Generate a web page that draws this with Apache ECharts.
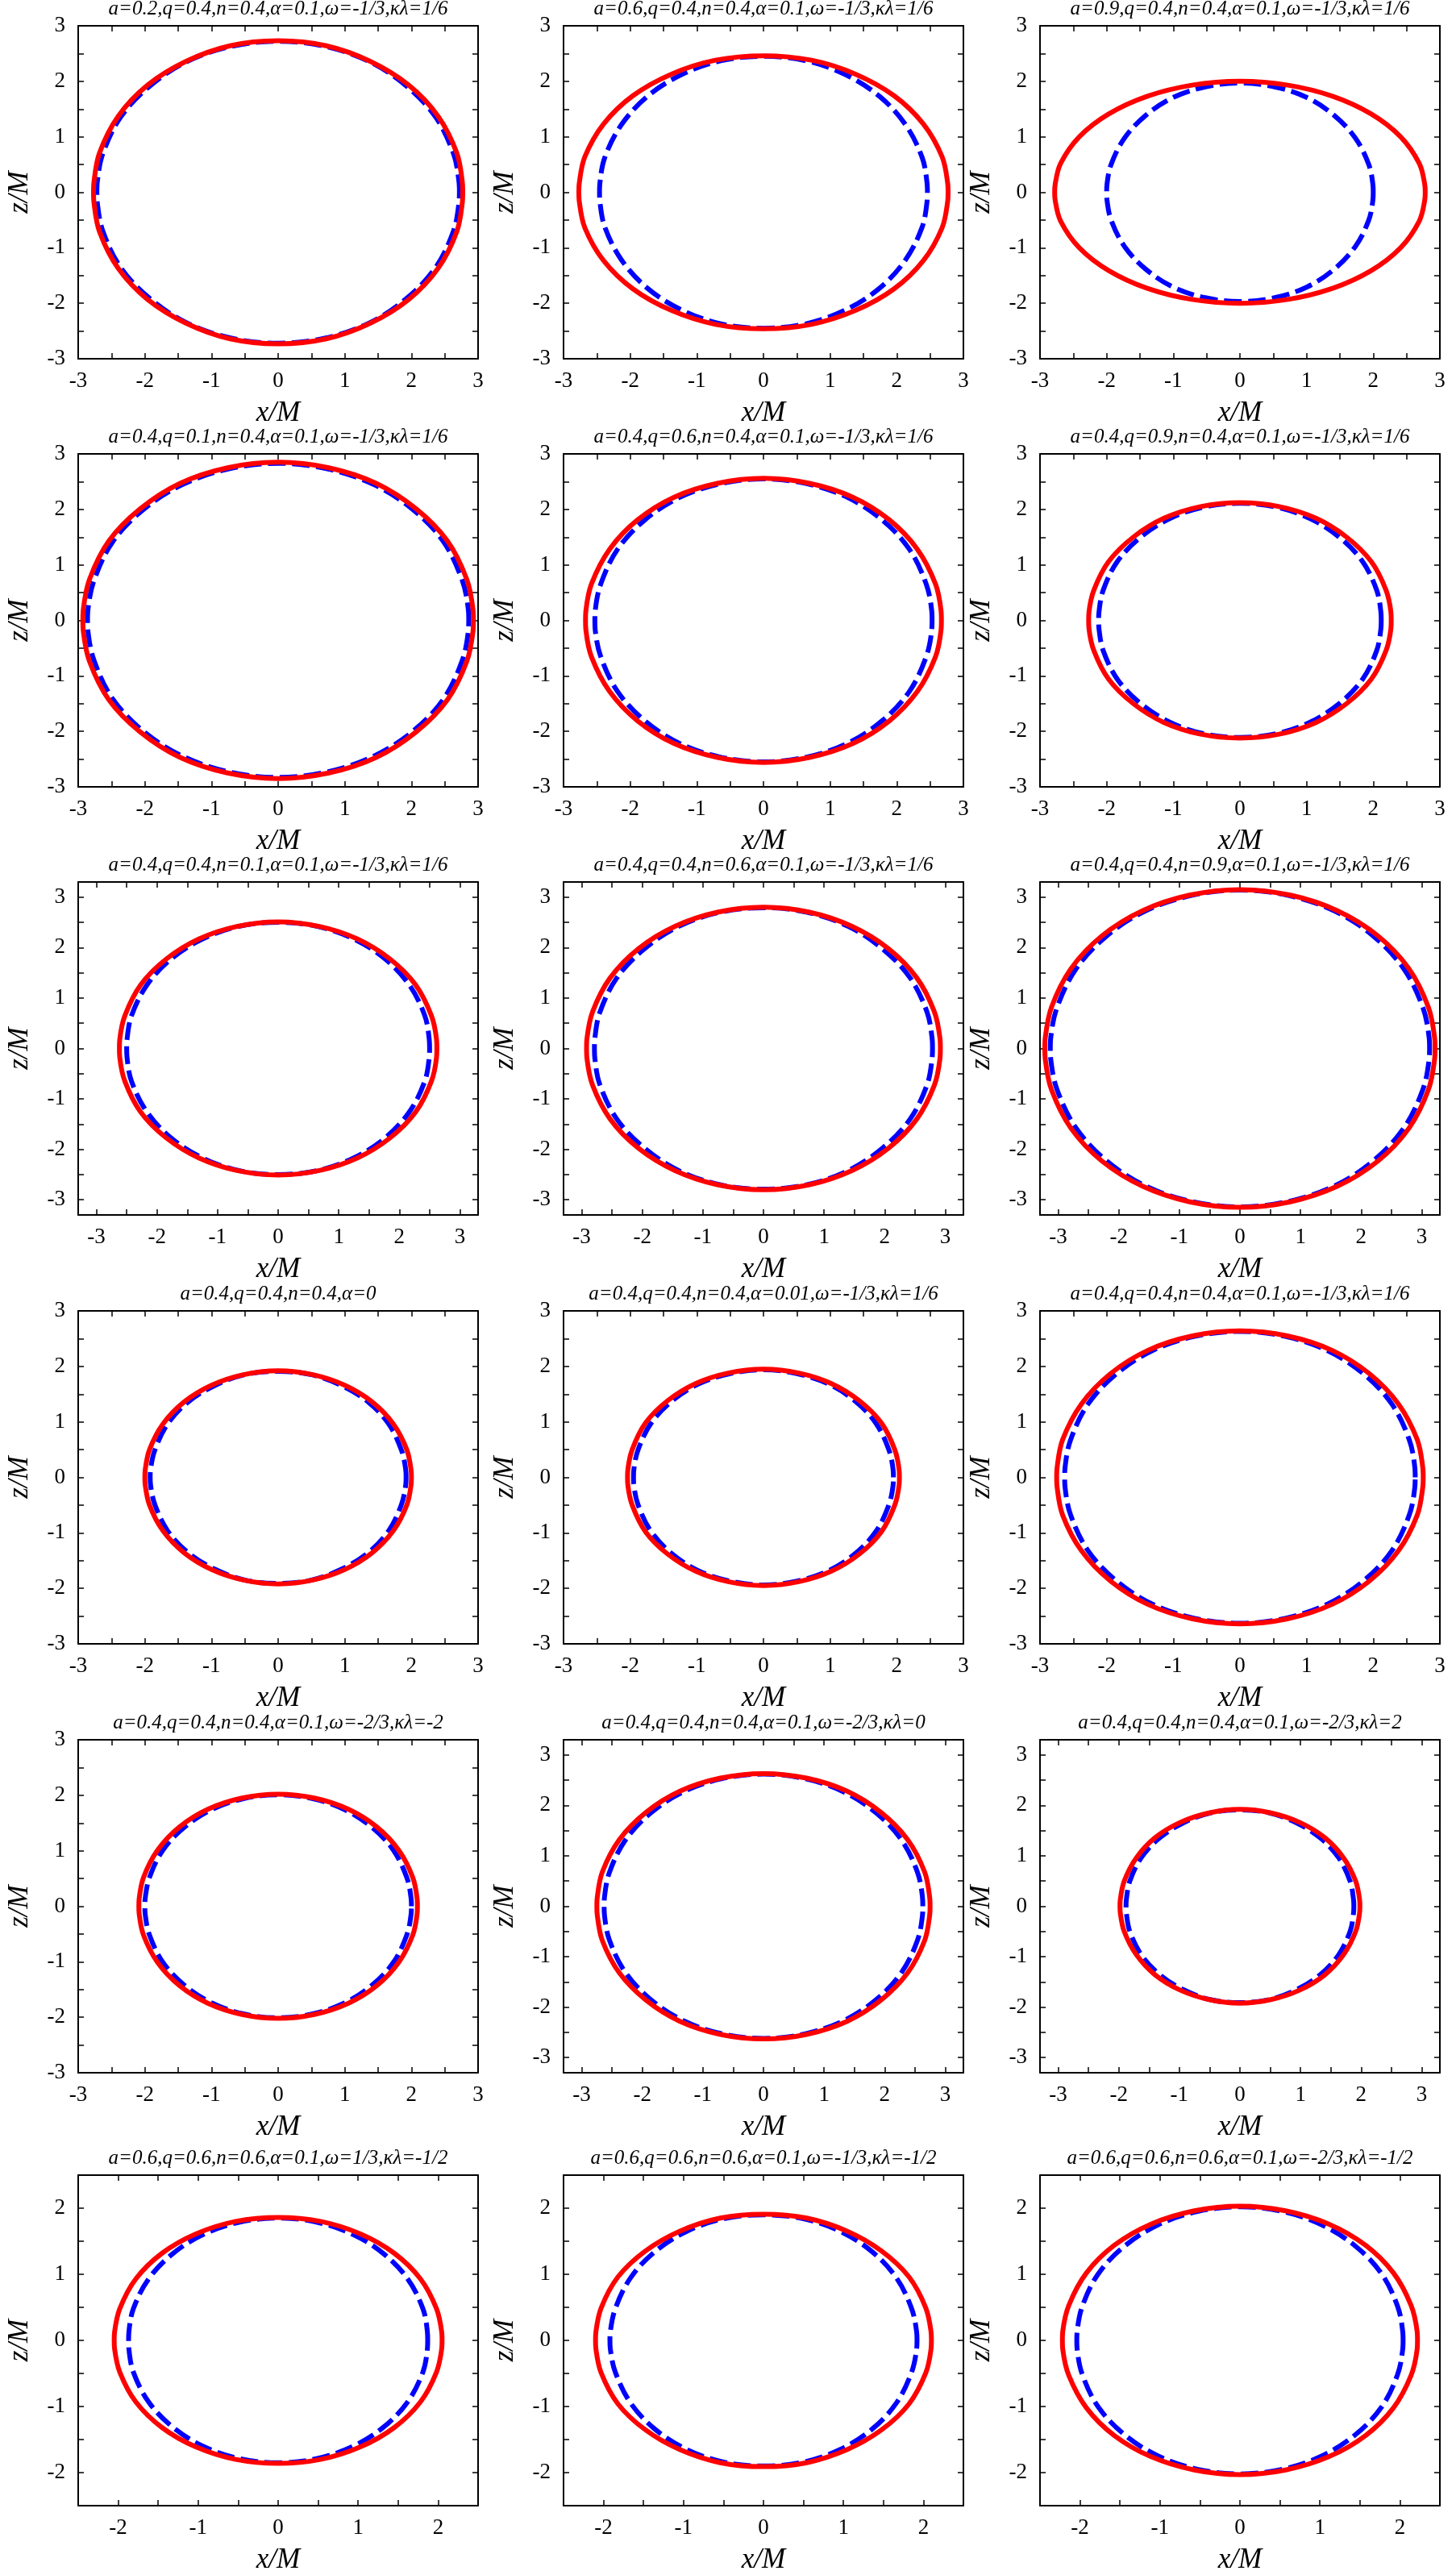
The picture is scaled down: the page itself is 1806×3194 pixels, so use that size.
<!DOCTYPE html>
<html>
<head>
<meta charset="utf-8">
<script src="https://cdn.jsdelivr.net/npm/echarts@6/dist/echarts.min.js"></script>
<style>
  html, body {margin: 0; padding: 0; background: #fff;}
  #chart {width: 1806px; height: 3194px;}
</style>
</head>
<body>
<div id="chart"></div>
<script>
const titles = [
  'a=0.2,q=0.4,n=0.4,α=0.1,ω=-1/3,κλ=1/6',
  'a=0.6,q=0.4,n=0.4,α=0.1,ω=-1/3,κλ=1/6',
  'a=0.9,q=0.4,n=0.4,α=0.1,ω=-1/3,κλ=1/6',
  'a=0.4,q=0.1,n=0.4,α=0.1,ω=-1/3,κλ=1/6',
  'a=0.4,q=0.6,n=0.4,α=0.1,ω=-1/3,κλ=1/6',
  'a=0.4,q=0.9,n=0.4,α=0.1,ω=-1/3,κλ=1/6',
  'a=0.4,q=0.4,n=0.1,α=0.1,ω=-1/3,κλ=1/6',
  'a=0.4,q=0.4,n=0.6,α=0.1,ω=-1/3,κλ=1/6',
  'a=0.4,q=0.4,n=0.9,α=0.1,ω=-1/3,κλ=1/6',
  'a=0.4,q=0.4,n=0.4,α=0',
  'a=0.4,q=0.4,n=0.4,α=0.01,ω=-1/3,κλ=1/6',
  'a=0.4,q=0.4,n=0.4,α=0.1,ω=-1/3,κλ=1/6',
  'a=0.4,q=0.4,n=0.4,α=0.1,ω=-2/3,κλ=-2',
  'a=0.4,q=0.4,n=0.4,α=0.1,ω=-2/3,κλ=0',
  'a=0.4,q=0.4,n=0.4,α=0.1,ω=-2/3,κλ=2',
  'a=0.6,q=0.6,n=0.6,α=0.1,ω=1/3,κλ=-1/2',
  'a=0.6,q=0.6,n=0.6,α=0.1,ω=-1/3,κλ=-1/2',
  'a=0.6,q=0.6,n=0.6,α=0.1,ω=-2/3,κλ=-1/2'
];

// half-width of each panel's x and z range
const axisMax = [3, 3, 3, 3, 3, 3, 3.3, 3.3, 3.3, 3, 3, 3, 3, 3.3, 3.3, 2.5, 2.5, 2.5];

const ticks3 = [-3, -2.5, -2, -1.5, -1, -0.5, 0, 0.5, 1, 1.5, 2, 2.5, 3];
const labels3 = [-3, -2, -1, 0, 1, 2, 3];
const ticks25 = [-2.5, -2, -1.5, -1, -0.5, 0, 0.5, 1, 1.5, 2, 2.5];
const labels25 = [-2, -1, 0, 1, 2];

// one quadrant of each curve, from the equator (z=0) up to the pole (x=0)
const red1X = [2.77, 2.763, 2.68, 2.40, 1.96, 1.38, 0.72, 0];
const red1Z = [0, 0.19, 0.71, 1.37, 1.93, 2.36, 2.64, 2.73];
const blue1X = [2.72, 2.713, 2.63, 2.36, 1.92, 1.36, 0.70, 0];
const blue1Z = [0, 0.19, 0.70, 1.36, 1.92, 2.36, 2.63, 2.72];

const red2X = [2.77, 2.763, 2.68, 2.40, 1.96, 1.38, 0.72, 0];
const red2Z = [0, 0.17, 0.64, 1.23, 1.74, 2.13, 2.38, 2.46];
const blue2X = [2.46, 2.454, 2.38, 2.13, 1.74, 1.23, 0.64, 0];
const blue2Z = [0, 0.17, 0.63, 1.22, 1.73, 2.12, 2.37, 2.45];

const red3X = [2.78, 2.773, 2.69, 2.41, 1.97, 1.39, 0.72, 0];
const red3Z = [0, 0.14, 0.52, 1.00, 1.41, 1.73, 1.93, 2.00];
const blue3X = [2.00, 1.995, 1.93, 1.73, 1.41, 1.00, 0.52, 0];
const blue3Z = [0, 0.14, 0.51, 0.98, 1.39, 1.71, 1.90, 1.97];

const red4X = [2.93, 2.923, 2.83, 2.54, 2.07, 1.47, 0.76, 0];
const red4Z = [0, 0.20, 0.74, 1.43, 2.01, 2.47, 2.75, 2.85];
const blue4X = [2.86, 2.853, 2.76, 2.48, 2.02, 1.43, 0.74, 0];
const blue4Z = [0, 0.20, 0.73, 1.42, 2.00, 2.45, 2.73, 2.83];

const red5X = [2.67, 2.664, 2.58, 2.31, 1.89, 1.34, 0.69, 0];
const red5Z = [0, 0.18, 0.66, 1.28, 1.81, 2.22, 2.47, 2.56];
const blue5X = [2.53, 2.524, 2.44, 2.19, 1.79, 1.27, 0.66, 0];
const blue5Z = [0, 0.18, 0.66, 1.28, 1.80, 2.21, 2.46, 2.55];

const red6X = [2.27, 2.265, 2.19, 1.97, 1.60, 1.14, 0.59, 0];
const red6Z = [0, 0.15, 0.55, 1.06, 1.50, 1.84, 2.05, 2.12];
const blue6X = [2.12, 2.115, 2.05, 1.84, 1.50, 1.06, 0.55, 0];
const blue6Z = [0, 0.15, 0.55, 1.06, 1.49, 1.83, 2.04, 2.11];

const red7X = [2.62, 2.614, 2.53, 2.27, 1.85, 1.31, 0.68, 0];
const red7Z = [0, 0.18, 0.65, 1.26, 1.77, 2.17, 2.42, 2.51];
const blue7X = [2.50, 2.494, 2.42, 2.17, 1.77, 1.25, 0.65, 0];
const blue7Z = [0, 0.18, 0.65, 1.25, 1.77, 2.17, 2.42, 2.50];

const red8X = [2.92, 2.913, 2.82, 2.53, 2.06, 1.46, 0.76, 0];
const red8Z = [0, 0.20, 0.73, 1.40, 1.98, 2.42, 2.70, 2.80];
const blue8X = [2.79, 2.783, 2.70, 2.42, 1.97, 1.40, 0.72, 0];
const blue8Z = [0, 0.20, 0.72, 1.40, 1.97, 2.42, 2.70, 2.79];

const red9X = [3.22, 3.212, 3.11, 2.79, 2.28, 1.61, 0.83, 0];
const red9Z = [0, 0.22, 0.82, 1.58, 2.23, 2.73, 3.04, 3.15];
const blue9X = [3.13, 3.122, 3.02, 2.71, 2.21, 1.57, 0.81, 0];
const blue9Z = [0, 0.22, 0.81, 1.57, 2.22, 2.72, 3.03, 3.14];

const red10X = [2.00, 1.995, 1.93, 1.73, 1.41, 1.00, 0.52, 0];
const red10Z = [0, 0.13, 0.50, 0.96, 1.36, 1.66, 1.85, 1.92];
const blue10X = [1.92, 1.915, 1.85, 1.66, 1.36, 0.96, 0.50, 0];
const blue10Z = [0, 0.13, 0.49, 0.96, 1.35, 1.65, 1.85, 1.91];

const red11X = [2.04, 2.035, 1.97, 1.77, 1.44, 1.02, 0.53, 0];
const red11Z = [0, 0.14, 0.50, 0.98, 1.38, 1.69, 1.88, 1.95];
const blue11X = [1.95, 1.945, 1.88, 1.69, 1.38, 0.98, 0.50, 0];
const blue11Z = [0, 0.14, 0.50, 0.97, 1.37, 1.68, 1.87, 1.94];

const red12X = [2.75, 2.743, 2.66, 2.38, 1.94, 1.38, 0.71, 0];
const red12Z = [0, 0.18, 0.68, 1.32, 1.87, 2.29, 2.55, 2.64];
const blue12X = [2.63, 2.624, 2.54, 2.28, 1.86, 1.32, 0.68, 0];
const blue12Z = [0, 0.18, 0.68, 1.32, 1.86, 2.28, 2.54, 2.63];

const red13X = [2.09, 2.085, 2.02, 1.81, 1.48, 1.05, 0.54, 0];
const red13Z = [0, 0.14, 0.52, 1.01, 1.43, 1.75, 1.95, 2.02];
const blue13X = [2.00, 1.995, 1.93, 1.73, 1.41, 1.00, 0.52, 0];
const blue13Z = [0, 0.14, 0.52, 1.01, 1.42, 1.74, 1.94, 2.01];

const red14X = [2.75, 2.743, 2.66, 2.38, 1.94, 1.38, 0.71, 0];
const red14Z = [0, 0.18, 0.68, 1.32, 1.86, 2.28, 2.54, 2.63];
const blue14X = [2.63, 2.624, 2.54, 2.28, 1.86, 1.32, 0.68, 0];
const blue14Z = [0, 0.18, 0.68, 1.31, 1.85, 2.27, 2.53, 2.62];

const red15X = [1.98, 1.975, 1.91, 1.71, 1.40, 0.99, 0.51, 0];
const red15Z = [0, 0.13, 0.50, 0.96, 1.36, 1.66, 1.85, 1.92];
const blue15X = [1.88, 1.875, 1.82, 1.63, 1.33, 0.94, 0.49, 0];
const blue15Z = [0, 0.13, 0.49, 0.96, 1.35, 1.65, 1.85, 1.91];

const red16X = [2.05, 2.045, 1.98, 1.78, 1.45, 1.03, 0.53, 0];
const red16Z = [0, 0.13, 0.48, 0.93, 1.32, 1.61, 1.80, 1.86];
const blue16X = [1.87, 1.866, 1.81, 1.62, 1.32, 0.94, 0.48, 0];
const blue16Z = [0, 0.13, 0.48, 0.93, 1.31, 1.60, 1.79, 1.85];

const red17X = [2.10, 2.095, 2.03, 1.82, 1.48, 1.05, 0.54, 0];
const red17Z = [0, 0.13, 0.49, 0.96, 1.35, 1.65, 1.85, 1.91];
const blue17X = [1.92, 1.915, 1.85, 1.66, 1.36, 0.96, 0.50, 0];
const blue17Z = [0, 0.13, 0.49, 0.95, 1.34, 1.65, 1.84, 1.90];

const red18X = [2.22, 2.215, 2.14, 1.92, 1.57, 1.11, 0.57, 0];
const red18Z = [0, 0.14, 0.53, 1.02, 1.44, 1.76, 1.96, 2.03];
const blue18X = [2.04, 2.035, 1.97, 1.77, 1.44, 1.02, 0.53, 0];
const blue18Z = [0, 0.14, 0.52, 1.01, 1.43, 1.75, 1.95, 2.02];

const redX = [red1X, red2X, red3X, red4X, red5X, red6X, red7X, red8X, red9X,
  red10X, red11X, red12X, red13X, red14X, red15X, red16X, red17X, red18X];
const redZ = [red1Z, red2Z, red3Z, red4Z, red5Z, red6Z, red7Z, red8Z, red9Z,
  red10Z, red11Z, red12Z, red13Z, red14Z, red15Z, red16Z, red17Z, red18Z];
const blueX = [blue1X, blue2X, blue3X, blue4X, blue5X, blue6X, blue7X, blue8X, blue9X,
  blue10X, blue11X, blue12X, blue13X, blue14X, blue15X, blue16X, blue17X, blue18X];
const blueZ = [blue1Z, blue2Z, blue3Z, blue4Z, blue5Z, blue6Z, blue7Z, blue8Z, blue9Z,
  blue10Z, blue11Z, blue12Z, blue13Z, blue14Z, blue15Z, blue16Z, blue17Z, blue18Z];

// curves are symmetric in x and z: mirror the quadrant into a closed loop
function loop(xs, zs) {
  const pts = [];
  const n = xs.length;
  for (let i = 0; i < n; i++) pts.push([xs[i], zs[i]]);
  for (let i = n - 2; i >= 0; i--) pts.push([-xs[i], zs[i]]);
  for (let i = 1; i < n; i++) pts.push([-xs[i], -zs[i]]);
  for (let i = n - 2; i >= 0; i--) pts.push([xs[i], -zs[i]]);
  return pts;
}

const colLeft = [97, 699, 1290];
const rowTop = [32, 563, 1094, 1626, 2158, 2698];
const W = 496, H = 413;
const serif = '"Liberation Serif", "DejaVu Serif", serif';

const grid = [], xAxis = [], yAxis = [], series = [], title = [];

titles.forEach((t, i) => {
  const left = colLeft[i % 3];
  const top = rowTop[Math.floor(i / 3)];
  const m = axisMax[i];
  const ticks = m === 2.5 ? ticks25 : ticks3;
  const labels = m === 2.5 ? labels25 : labels3;

  grid.push({left: left, top: top, width: W, height: H});
  title.push({
    text: t, left: left + W / 2, top: top - 21, padding: 0,
    textAlign: 'center', textVerticalAlign: 'middle',
    textStyle: {fontFamily: serif, fontStyle: 'italic', fontWeight: 'normal', fontSize: 25, color: '#000'}
  });

  const line = {onZero: false, lineStyle: {color: '#000', width: 2}};
  const tick = {inside: true, length: 7, customValues: ticks, lineStyle: {color: '#000', width: 1.5}};
  const label = {customValues: labels, fontFamily: serif, fontSize: 27, color: '#000', showMinLabel: true, showMaxLabel: true};
  const name = {fontFamily: serif, fontStyle: 'italic', fontSize: 35, color: '#000'};

  xAxis.push({
    type: 'value', gridIndex: i, min: -m, max: m, position: 'bottom',
    axisLine: line, axisTick: tick, axisLabel: Object.assign({margin: 14}, label),
    splitLine: {show: false},
    name: 'x/M', nameLocation: 'middle', nameGap: 50, nameTextStyle: name
  });
  xAxis.push({
    type: 'value', gridIndex: i, min: -m, max: m, position: 'top',
    axisLine: line, axisTick: tick, axisLabel: {show: false}, splitLine: {show: false}
  });
  yAxis.push({
    type: 'value', gridIndex: i, min: -m, max: m, position: 'left',
    axisLine: line, axisTick: tick, axisLabel: Object.assign({margin: 16}, label),
    splitLine: {show: false},
    name: 'z/M', nameLocation: 'middle', nameRotate: 90, nameGap: 55, nameTextStyle: name
  });
  yAxis.push({
    type: 'value', gridIndex: i, min: -m, max: m, position: 'right',
    axisLine: line, axisTick: tick, axisLabel: {show: false}, splitLine: {show: false}
  });

  series.push({
    type: 'line', xAxisIndex: 2 * i, yAxisIndex: 2 * i,
    data: loop(blueX[i], blueZ[i]),
    showSymbol: false, smooth: 0.35, silent: true,
    lineStyle: {color: '#0000ff', width: 6, type: [22, 8]}
  });
  series.push({
    type: 'line', xAxisIndex: 2 * i, yAxisIndex: 2 * i,
    data: loop(redX[i], redZ[i]),
    showSymbol: false, smooth: 0.35, silent: true,
    lineStyle: {color: '#ff0000', width: 6}
  });
});

const chart = echarts.init(document.getElementById('chart'));
chart.setOption({
  animation: false,
  backgroundColor: '#fff',
  title: title,
  grid: grid,
  xAxis: xAxis,
  yAxis: yAxis,
  series: series
});
</script>
</body>
</html>
